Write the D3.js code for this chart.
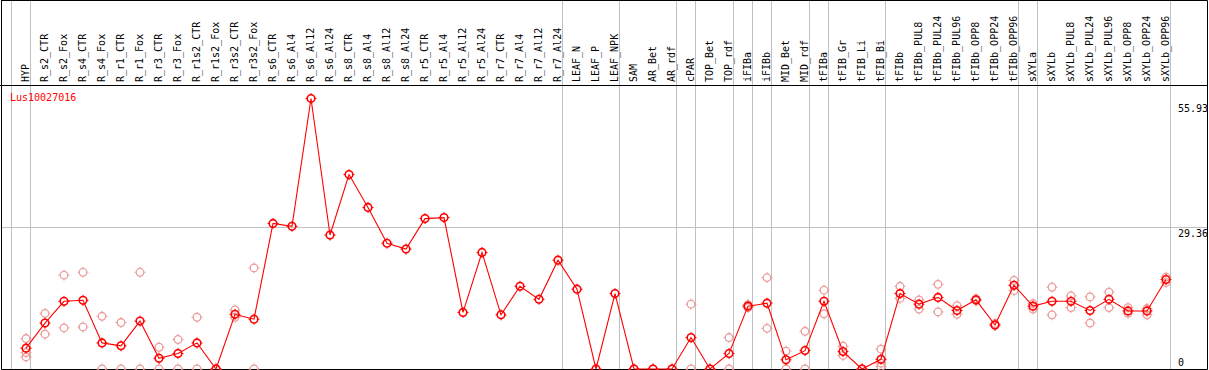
<!DOCTYPE html>
<html>
<head>
<meta charset="utf-8">
<script src="https://cdn.jsdelivr.net/npm/d3@7"></script>
<style>
  body { margin: 0; background: #fff; }
  svg { display: block; }
  text { font-family: "DejaVu Sans Mono", monospace; font-size: 10px; }
</style>
</head>
<body>
<div id="chart"></div>
<script>
// muestras (columnas)
const muestras = ["HYP","R_s2_CTR","R_s2_Fox","R_s4_CTR","R_s4_Fox","R_r1_CTR","R_r1_Fox","R_r3_CTR","R_r3_Fox",
  "R_r1s2_CTR","R_r1s2_Fox","R_r3s2_CTR","R_r3s2_Fox","R_s6_CTR","R_s6_Al4","R_s6_Al12","R_s6_Al24",
  "R_s8_CTR","R_s8_Al4","R_s8_Al12","R_s8_Al24","R_r5_CTR","R_r5_Al4","R_r5_Al12","R_r5_Al24",
  "R_r7_CTR","R_r7_Al4","R_r7_Al12","R_r7_Al24","LEAF_N","LEAF_P","LEAF_NPK","SAM","AR_Bet","AR_rdf",
  "cPAR","TOP_Bet","TOP_rdf","iFIBa","iFIBb","MID_Bet","MID_rdf","tFIBa","tFIB_Gr","tFIB_Li","tFIB_Bi",
  "tFIBb","tFIBb_PUL8","tFIBb_PUL24","tFIBb_PUL96","tFIBb_OPP8","tFIBb_OPP24","tFIBb_OPP96",
  "sXYLa","sXYLb","sXYLb_PUL8","sXYLb_PUL24","sXYLb_PUL96","sXYLb_OPP8","sXYLb_OPP24","sXYLb_OPP96"]

// promedio por muestra
const promedio = [4.3,9.5,14.0,14.2,5.4,4.8,9.9,2.2,3.2,5.4,0,11.3,10.3,30.1,29.5,55.93,27.7,
  40.2,33.4,26.0,24.8,31.1,31.3,11.7,24.1,11.2,17.1,14.4,22.5,16.5,0,15.6,0,0,0,
  6.5,0,3.2,13.0,13.6,1.9,3.8,14.0,3.6,0,2.0,
  15.6,13.4,14.8,12.1,14.3,9.1,17.3,
  13.0,14.0,14.0,12.1,14.4,12.0,12.0,18.5]

// replicas (puntos claros)
const replicas = [[6.3,3.4,2.5],[11.5,7.2],[19.4,8.5],[20.0,8.7],[10.9,0],[9.6,0],[20.0,0],[4.5,0],[6.1,0],
  [10.7,0],[0,0],[12.2,10.7],[20.9,0],[],[],[],[],
  [],[],[],[],[],[],[],[],[],[],[],[],[],[],[],[0],[0],[0],
  [13.4,0],[0],[6.5,0],[12.7,13.3],[18.9,8.4],[3.7,0],[7.8,0],[16.3,11.4],[4.7,2.8],[0,0],[4.1,1.2,0.5],
  [17.1,14.6],[14.3,12.4],[17.5,11.8],[13.1,11.3],[14.5,14.1],[9.4,9.0],[18.3,16.2],
  [13.5,12.4],[16.9,11.2],[15.1,12.7],[14.9,9.5],[15.9,12.7],[12.7,11.5],[12.5,11.2],[19.0,17.9]]

// fin de cada grupo (lineas grises)
const finGrupo = ["HYP","R_r7_Al24","LEAF_NPK","AR_rdf","cPAR","TOP_rdf","iFIBa","iFIBb","MID_rdf",
  "tFIBa","tFIB_Bi","tFIBb_OPP96","sXYLa","sXYLb_OPP96"]

const marcasY = [0, 29.36, 55.93]
const gen = "Lus10027016"

const ancho = 1209, alto = 370
const svg = d3.select("#chart").append("svg").attr("width", ancho).attr("height", alto)

const x = d3.scalePoint().domain(muestras).range([26, 1166])
const y = d3.scaleLinear().domain([0, 55.93]).range([369, 98.5])
const px = v => Math.round(v) + 0.5

// lineas grises verticales
const bordes = [x(muestras[0]) - x.step()].concat(finGrupo.map(d => x(d)))
svg.selectAll(".vg").data(bordes).enter().append("line")
  .attr("x1", d => px(d + 4)).attr("x2", d => px(d + 4))
  .attr("y1", 0).attr("y2", 369)
  .attr("stroke", "#c0c0c0")

// linea gris horizontal
svg.selectAll(".hg").data(marcasY.filter(d => d > 0 && d < 55.93)).enter().append("line")
  .attr("x1", 1).attr("x2", 1208)
  .attr("y1", d => px(y(d))).attr("y2", d => px(y(d)))
  .attr("stroke", "#c0c0c0")

// marco
svg.append("path")
  .attr("d", "M1.5,0V369.5H1207.5V0.5H1.5M0,85.5H1208")
  .attr("fill", "none").attr("stroke", "#000")

// etiquetas de columnas
svg.selectAll(".lab").data(muestras).enter().append("text")
  .attr("transform", d => "translate(" + (x(d) + 3) + ",82) rotate(-90)")
  .attr("fill", "#000")
  .text(d => d)

// etiquetas eje y
svg.selectAll(".ylab").data(marcasY).enter().append("text")
  .attr("x", 1178)
  .attr("y", d => d === 0 ? y(d) - 3 : (d === 55.93 ? y(d) + 13.5 : y(d) + 10))
  .attr("fill", "#000")
  .text(d => d)

svg.append("text").attr("x", 10).attr("y", 101).attr("fill", "red").text(gen)

// simbolo: circulo con marcas
function marca(g, color, ancho) {
  g.append("circle").attr("r", 3.8).attr("fill", "none")
    .attr("stroke", color).attr("stroke-width", ancho)
  g.append("path").attr("d", "M0,-5.5V-4M0,4V5.5M-5.5,0H-4M4,0H5.5")
    .attr("stroke", color).attr("stroke-width", 1)
}

// replicas
const planas = []
replicas.forEach((r, i) => r.forEach(v => planas.push({m: muestras[i], v: v})))
svg.selectAll(".rep").data(planas).enter().append("g")
  .attr("transform", d => "translate(" + x(d.m) + "," + y(d.v) + ")")
  .each(function() { marca(d3.select(this), "#ec9c9c", 1.3) })

// linea principal
const datos = muestras.map((m, i) => ({m: m, v: promedio[i]}))
svg.append("path").datum(datos)
  .attr("d", d3.line().x(d => x(d.m)).y(d => y(d.v)))
  .attr("fill", "none").attr("stroke", "red").attr("stroke-width", 1.1)

svg.selectAll(".pt").data(datos).enter().append("g")
  .attr("transform", d => "translate(" + x(d.m) + "," + y(d.v) + ")")
  .each(function() { marca(d3.select(this), "red", 1.6) })
</script>
</body>
</html>
